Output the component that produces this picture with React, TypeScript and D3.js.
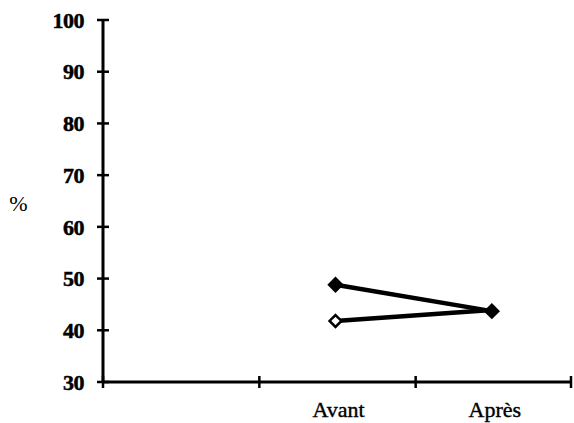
import React, { useEffect, useRef } from 'react'
import * as d3 from 'd3'

const categories = ['', 'Avant', 'Après']
const yTicks = [30, 40, 50, 60, 70, 80, 90, 100]
const filledSeries = [{ cat: 'Avant', value: 48.8 }, { cat: 'Après', value: 43.7 }]
const openSeries = [{ cat: 'Avant', value: 41.8 }, { cat: 'Après', value: 43.9 }]

const App = () => {
  const ref = useRef(null)
  const width = 574
  const height = 423
  const margin = { top: 20, right: 2, bottom: 41, left: 103 }

  useEffect(() => {
    const svg = d3.select(ref.current)
    svg.selectAll('*').remove()

    const x = d3.scaleBand()
      .domain(categories)
      .range([margin.left, width - margin.right])

    const y = d3.scaleLinear()
      .domain([30, 100])
      .range([height - margin.bottom, margin.top])

    const font = "'Liberation Serif', 'Times New Roman', serif"

    // y axis
    const yAxis = svg.append('g')
    yAxis.append('line')
      .attr('x1', margin.left).attr('x2', margin.left)
      .attr('y1', y(100)).attr('y2', y(30))
      .attr('stroke', '#000').attr('stroke-width', 3)
    yAxis.selectAll('.tick')
      .data(yTicks)
      .join('g')
      .attr('transform', d => `translate(${margin.left},${y(d)})`)
      .call(g => g.append('line')
        .attr('x1', -6).attr('x2', 6)
        .attr('stroke', '#000').attr('stroke-width', 2.5))
      .call(g => g.append('text')
        .attr('x', -19).attr('dy', '0.35em')
        .attr('text-anchor', 'end')
        .attr('font-family', font)
        .attr('font-weight', 'bold')
        .attr('font-size', 22)
        .attr('letter-spacing', -0.5)
        .attr('stroke', '#000')
        .attr('stroke-width', 0.5)
        .text(d => d))

    // x axis
    const xAxis = svg.append('g')
    xAxis.append('line')
      .attr('x1', margin.left).attr('x2', width - margin.right - 1)
      .attr('y1', y(30)).attr('y2', y(30))
      .attr('stroke', '#000').attr('stroke-width', 3)
    const xTickPos = categories.map(c => x(c) + x.bandwidth()).concat([margin.left])
    xAxis.selectAll('.xt')
      .data(xTickPos)
      .join('line')
      .attr('x1', d => Math.min(d, width - 3)).attr('x2', d => Math.min(d, width - 3))
      .attr('y1', y(30) - 6).attr('y2', y(30) + 6)
      .attr('stroke', '#000').attr('stroke-width', 2.5)
    xAxis.selectAll('.xl')
      .data(categories.filter(c => c))
      .join('text')
      .attr('x', d => x(d) + x.bandwidth() / 2 + 1)
      .attr('y', 417)
      .attr('text-anchor', 'middle')
      .attr('font-family', font)
      .attr('font-size', 22)
      .attr('stroke', '#000')
      .attr('stroke-width', 0.4)
      .text(d => d)

    svg.append('text')
      .attr('x', 18.5).attr('y', 211)
      .attr('text-anchor', 'middle')
      .attr('font-family', font)
      .attr('font-size', 22)
      .text('%')

    const line = d3.line()
      .x(d => x(d.cat) + x.bandwidth() / 2 - 2)
      .y(d => y(d.value))

    const diamond = d3.symbol().type(d3.symbolDiamond2).size(170)

    svg.append('path')
      .datum(openSeries)
      .attr('fill', 'none')
      .attr('stroke', '#000')
      .attr('stroke-width', 4.5)
      .attr('d', line)
    svg.selectAll('.open')
      .data(openSeries.slice(0, 1))
      .join('path')
      .attr('transform', d => `translate(${x(d.cat) + x.bandwidth() / 2 - 2},${y(d.value)})`)
      .attr('d', d3.symbol().type(d3.symbolDiamond2).size(90))
      .attr('fill', '#fff')
      .attr('stroke', '#000')
      .attr('stroke-width', 2.5)

    svg.append('path')
      .datum(filledSeries)
      .attr('fill', 'none')
      .attr('stroke', '#000')
      .attr('stroke-width', 4.5)
      .attr('d', line)
    svg.selectAll('.filled')
      .data(filledSeries)
      .join('path')
      .attr('transform', d => `translate(${x(d.cat) + x.bandwidth() / 2 - 2},${y(d.value)})`)
      .attr('d', diamond)
      .attr('fill', '#000')
  }, [])

  return (
    <svg width={width} height={height} ref={ref}
      style={{ position: 'absolute', left: 0, top: 0, background: '#fff' }} />
  )
}

export default App
